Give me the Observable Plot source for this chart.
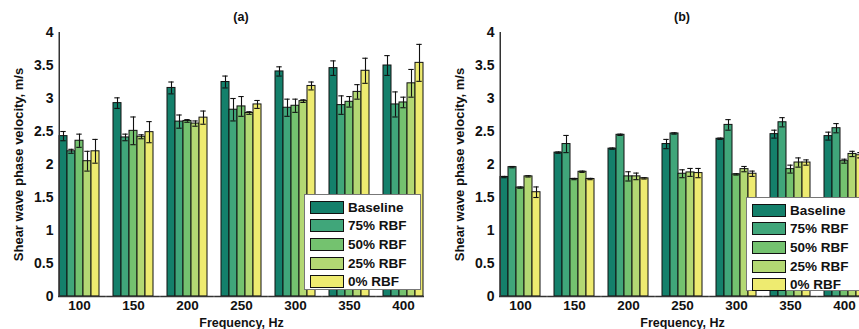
<!DOCTYPE html>
<html>
<head>
<meta charset="utf-8">
<script src="https://cdn.jsdelivr.net/npm/d3@7"></script>
<script src="https://cdn.jsdelivr.net/npm/@observablehq/plot@0.6"></script>
<style>
  html, body { margin: 0; padding: 0; background: #fff; }
  #wrap { position: relative; width: 859px; height: 329px; overflow: hidden; background: #fff;
          font-family: "Liberation Sans", Arial, sans-serif; font-weight: bold; color: #111; }
  .panel { position: absolute; top: 0; width: 430px; height: 329px; }
  .panel svg { max-width: none !important; }
  .title { position: absolute; top: 10px; font-size: 12.5px; width: 40px; text-align: center; }
  .legend { position: absolute; box-sizing: border-box; width: 117px; background: #fff;
            border: 1px solid #777; padding: 3px 0 0 5px; }
  .row { display: flex; align-items: center; height: 18.6px; font-size: 13.5px; }
  .sw { box-sizing: border-box; width: 34px; height: 13px; border: 1.5px solid #111; margin-right: 4px; flex: none; }
</style>
</head>
<body>
<div id="wrap"></div>
<script>
const freqs = [100, 150, 200, 250, 300, 350, 400];
const seriesNames = ["Baseline", "75% RBF", "50% RBF", "25% RBF", "0% RBF"];
const seriesColors = ["#14806b", "#40a67a", "#74c26f", "#b3d873", "#eeeb70"];
const yTicks = [0, 0.5, 1, 1.5, 2, 2.5, 3, 3.5, 4];
const panelTitles = ["(a)", "(b)"];
const yLabel = "Shear wave phase velocity, m/s";
const xLabel = "Frequency, Hz";

// Panel (a) values
const a_baseline = [2.43, 2.93, 3.16, 3.25, 3.41, 3.46, 3.50];
const a_rbf75    = [2.20, 2.41, 2.65, 2.83, 2.86, 2.90, 2.91];
const a_rbf50    = [2.36, 2.51, 2.66, 2.88, 2.89, 2.95, 2.94];
const a_rbf25    = [2.05, 2.42, 2.62, 2.78, 2.96, 3.10, 3.23];
const a_rbf0     = [2.20, 2.49, 2.71, 2.91, 3.19, 3.42, 3.54];
// Panel (a) errors
const a_err_baseline = [0.07, 0.08, 0.09, 0.09, 0.07, 0.11, 0.15];
const a_err_rbf75    = [0.03, 0.05, 0.10, 0.17, 0.13, 0.14, 0.19];
const a_err_rbf50    = [0.10, 0.21, 0.02, 0.15, 0.10, 0.08, 0.08];
const a_err_rbf25    = [0.15, 0.03, 0.04, 0.02, 0.02, 0.11, 0.21];
const a_err_rbf0     = [0.18, 0.16, 0.10, 0.06, 0.06, 0.19, 0.28];

// Panel (b) values
const b_baseline = [1.81, 2.18, 2.24, 2.31, 2.39, 2.46, 2.43];
const b_rbf75    = [1.96, 2.31, 2.45, 2.47, 2.60, 2.64, 2.55];
const b_rbf50    = [1.65, 1.78, 1.82, 1.86, 1.85, 1.93, 2.05];
const b_rbf25    = [1.82, 1.89, 1.82, 1.88, 1.93, 2.03, 2.16];
const b_rbf0     = [1.58, 1.78, 1.79, 1.87, 1.86, 2.03, 2.14];
// Panel (b) errors
const b_err_baseline = [0.01, 0.01, 0.01, 0.07, 0.01, 0.06, 0.06];
const b_err_rbf75    = [0.01, 0.13, 0.01, 0.01, 0.08, 0.07, 0.07];
const b_err_rbf50    = [0.01, 0.01, 0.07, 0.06, 0.01, 0.06, 0.03];
const b_err_rbf25    = [0.01, 0.01, 0.05, 0.06, 0.04, 0.07, 0.04];
const b_err_rbf0     = [0.08, 0.01, 0.01, 0.07, 0.04, 0.04, 0.04];

function makeRows(vals, errs) {
  const rows = [];
  seriesNames.forEach((s, si) => {
    freqs.forEach((f, fi) => {
      rows.push({freq: f, series: s, value: vals[si][fi], err: errs[si][fi]});
    });
  });
  return rows;
}

const W = 430, H = 329, ML = 57, MR = 5, MT = 32, MB = 33;
const FX_PAD = 0.217;
const fxScale = d3.scaleBand(freqs, [ML, W - MR]).paddingInner(FX_PAD).paddingOuter(0);
const halfGap = (fxScale.step() - fxScale.bandwidth()) / 2;
const barW = fxScale.bandwidth() / seriesNames.length;
const ink = "#111";

function panel(rows) {
  const firstF = freqs.slice(0, 1), midF = freqs.slice(1, -1), lastF = freqs.slice(-1);
  return Plot.plot({
    width: W, height: H,
    marginLeft: ML, marginRight: MR, marginTop: MT, marginBottom: MB,
    style: {fontFamily: "Liberation Sans, Arial, sans-serif", fontWeight: "bold", fontSize: "14px", color: ink, background: "transparent", overflow: "visible"},
    fx: {domain: freqs, paddingInner: FX_PAD, paddingOuter: 0},
    x: {domain: seriesNames, padding: 0, axis: null},
    y: {domain: [0, 4]},
    color: {domain: seriesNames, range: seriesColors},
    marks: [
      Plot.barY(rows, {fx: "freq", x: "series", y: "value", fill: "series", stroke: ink, strokeWidth: 1}),
      Plot.ruleX(rows, {fx: "freq", x: "series", y1: d => d.value - d.err, y2: d => d.value + d.err, stroke: ink, strokeWidth: 1.1}),
      Plot.tickY(rows, {fx: "freq", x: "series", y: d => d.value + d.err, stroke: ink, strokeWidth: 1.1, insetLeft: 1.3, insetRight: 1.3}),
      Plot.tickY(rows, {fx: "freq", x: "series", y: d => d.value - d.err, stroke: ink, strokeWidth: 1.1, insetLeft: 1.3, insetRight: 1.3}),
      // axis lines
      Plot.ruleY(firstF, {fx: d => d, y: () => 0, stroke: "#333", strokeWidth: 1.5, insetLeft: 0, insetRight: -halfGap}),
      Plot.ruleY(midF, {fx: d => d, y: () => 0, stroke: "#333", strokeWidth: 1.5, insetLeft: -halfGap, insetRight: -halfGap}),
      Plot.ruleY(lastF, {fx: d => d, y: () => 0, stroke: "#333", strokeWidth: 1.5, insetLeft: -halfGap, insetRight: 0}),
      Plot.ruleX(firstF, {fx: d => d, x: () => seriesNames[0], dx: -barW / 2, stroke: "#333", strokeWidth: 1.5}),
      Plot.axisY({ticks: yTicks, tickFormat: d => String(d), tickSize: 0, tickPadding: 5, fontSize: 14,
                  label: null}),
      Plot.axisY({ticks: [], tickSize: 0, fontSize: 13,
                  label: yLabel, labelAnchor: "center", labelOffset: 45, labelArrow: false}),
      Plot.axisFx({anchor: "bottom", tickSize: 0, tickPadding: 4, fontSize: 13.5, label: null}),
      Plot.axisFx({anchor: "bottom", ticks: [], tickSize: 0, fontSize: 12.5,
                   label: xLabel, labelAnchor: "center", labelOffset: 30, labelArrow: false})
    ]
  });
}

const wrap = document.getElementById("wrap");
const panels = [
  {rows: makeRows([a_baseline, a_rbf75, a_rbf50, a_rbf25, a_rbf0], [a_err_baseline, a_err_rbf75, a_err_rbf50, a_err_rbf25, a_err_rbf0]), left: 0, legend: {left: 304, top: 194, height: 96}},
  {rows: makeRows([b_baseline, b_rbf75, b_rbf50, b_rbf25, b_rbf0], [b_err_baseline, b_err_rbf75, b_err_rbf50, b_err_rbf25, b_err_rbf0]), left: 441, legend: {left: 746, top: 197, height: 94}}
];

panels.forEach((p, i) => {
  const div = document.createElement("div");
  div.className = "panel";
  div.style.left = p.left + "px";
  div.appendChild(panel(p.rows));
  wrap.appendChild(div);

  const t = document.createElement("div");
  t.className = "title";
  t.textContent = panelTitles[i];
  t.style.left = (p.left + (ML + W - MR) / 2 - 20) + "px";
  wrap.appendChild(t);

  const lg = document.createElement("div");
  lg.className = "legend";
  lg.style.left = p.legend.left + "px";
  lg.style.top = p.legend.top + "px";
  lg.style.height = p.legend.height + "px";
  seriesNames.forEach((s, si) => {
    const r = document.createElement("div");
    r.className = "row";
    const sw = document.createElement("div");
    sw.className = "sw";
    sw.style.background = seriesColors[si];
    const tx = document.createElement("span");
    tx.textContent = s;
    r.appendChild(sw);
    r.appendChild(tx);
    lg.appendChild(r);
  });
  wrap.appendChild(lg);
});
</script>
</body>
</html>
